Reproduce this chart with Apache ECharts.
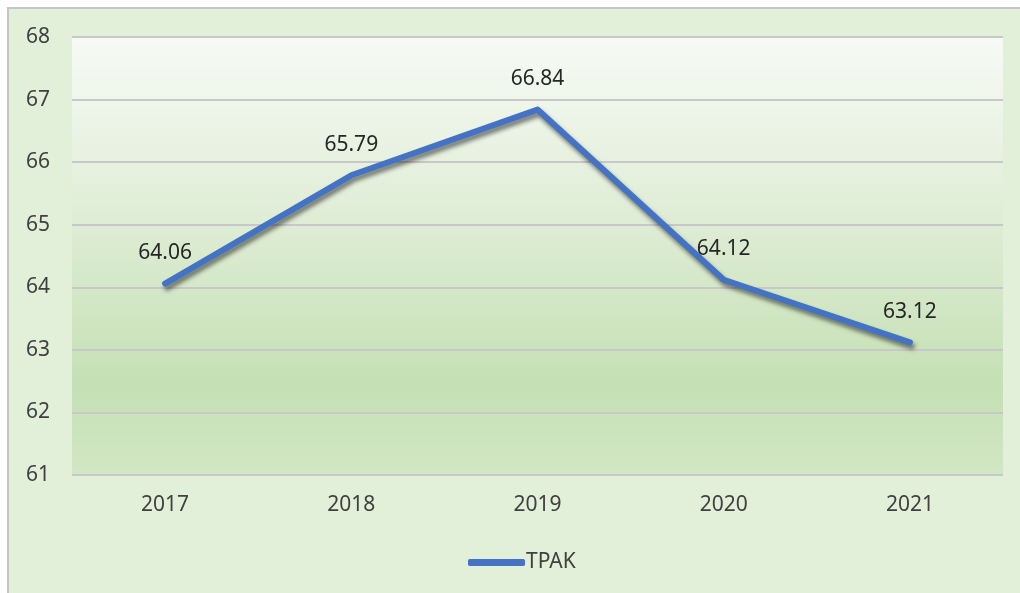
<!DOCTYPE html>
<html><head><meta charset="utf-8">
<script src="https://cdn.jsdelivr.net/npm/echarts@6/dist/echarts.min.js"></script>
<style>html,body{margin:0;padding:0;background:#fff}#c{width:1020px;height:593px}</style>
</head><body><div id="c"></div>
<script>
const categories = ['2017','2018','2019','2020','2021'];
const tpak = [64.06, 65.79, 66.84, 64.12, 63.12];
const seriesName = 'TPAK';
const yMin = 61, yMax = 68, yInterval = 1;

const chart = echarts.init(document.getElementById('c'));
const font = '"Noto Sans", "Open Sans", sans-serif';
const fs = 21;
chart.setOption({
  backgroundColor: '#ffffff',
  animation: false,
  graphic: [{
    type: 'rect', z: -10, silent: true,
    shape: { x: 8, y: 8, width: 1030, height: 600 },
    style: { fill: '#e2efd9', stroke: '#c4c4c4', lineWidth: 2 }
  }],
  grid: {
    left: 72, right: 17, top: 37, bottom: 118,
    show: true, borderWidth: 0,
    backgroundColor: new echarts.graphic.LinearGradient(0, 0, 0, 1, [
      { offset: 0, color: '#f7faf5' },
      { offset: 0.35, color: '#e3efdb' },
      { offset: 0.8, color: '#c5e0b4' },
      { offset: 1, color: '#d2e7c5' }
    ])
  },
  legend: {
    top: 547, left: 463,
    itemWidth: 57, itemHeight: 7, itemGap: 10,
    textStyle: { fontFamily: font, fontSize: fs, color: '#404040', padding: [0, 0, 0, -4] },
    data: [{ name: seriesName, icon: 'roundRect', itemStyle: { color: '#4472c4', opacity: 1, borderWidth: 0 } }]
  },
  xAxis: {
    type: 'category', data: categories, boundaryGap: true,
    axisLine: { show: false }, axisTick: { show: false },
    axisLabel: { fontFamily: font, fontSize: fs, color: '#404040', margin: 20 }
  },
  yAxis: {
    type: 'value', min: yMin, max: yMax, interval: yInterval,
    axisLine: { show: false }, axisTick: { show: false },
    axisLabel: { fontFamily: font, fontSize: fs, color: '#404040', margin: 22 },
    splitLine: { lineStyle: { color: '#c8c8c8', width: 2 } }
  },
  series: [{
    name: seriesName, type: 'line', data: tpak,
    symbol: 'circle', symbolSize: 2, showSymbol: true,
    lineStyle: { color: '#4472c4', width: 6, cap: 'round', join: 'round',
      shadowColor: 'rgba(0,0,0,0.5)', shadowBlur: 4, shadowOffsetX: 2, shadowOffsetY: 4 },
    itemStyle: { color: 'rgba(68,114,196,0)', borderWidth: 0 },
    label: { show: true, position: 'top', distance: 19, fontFamily: font, fontSize: fs, color: '#262626',
      formatter: p => p.value.toFixed(2) }
  }]
});
</script></body></html>
